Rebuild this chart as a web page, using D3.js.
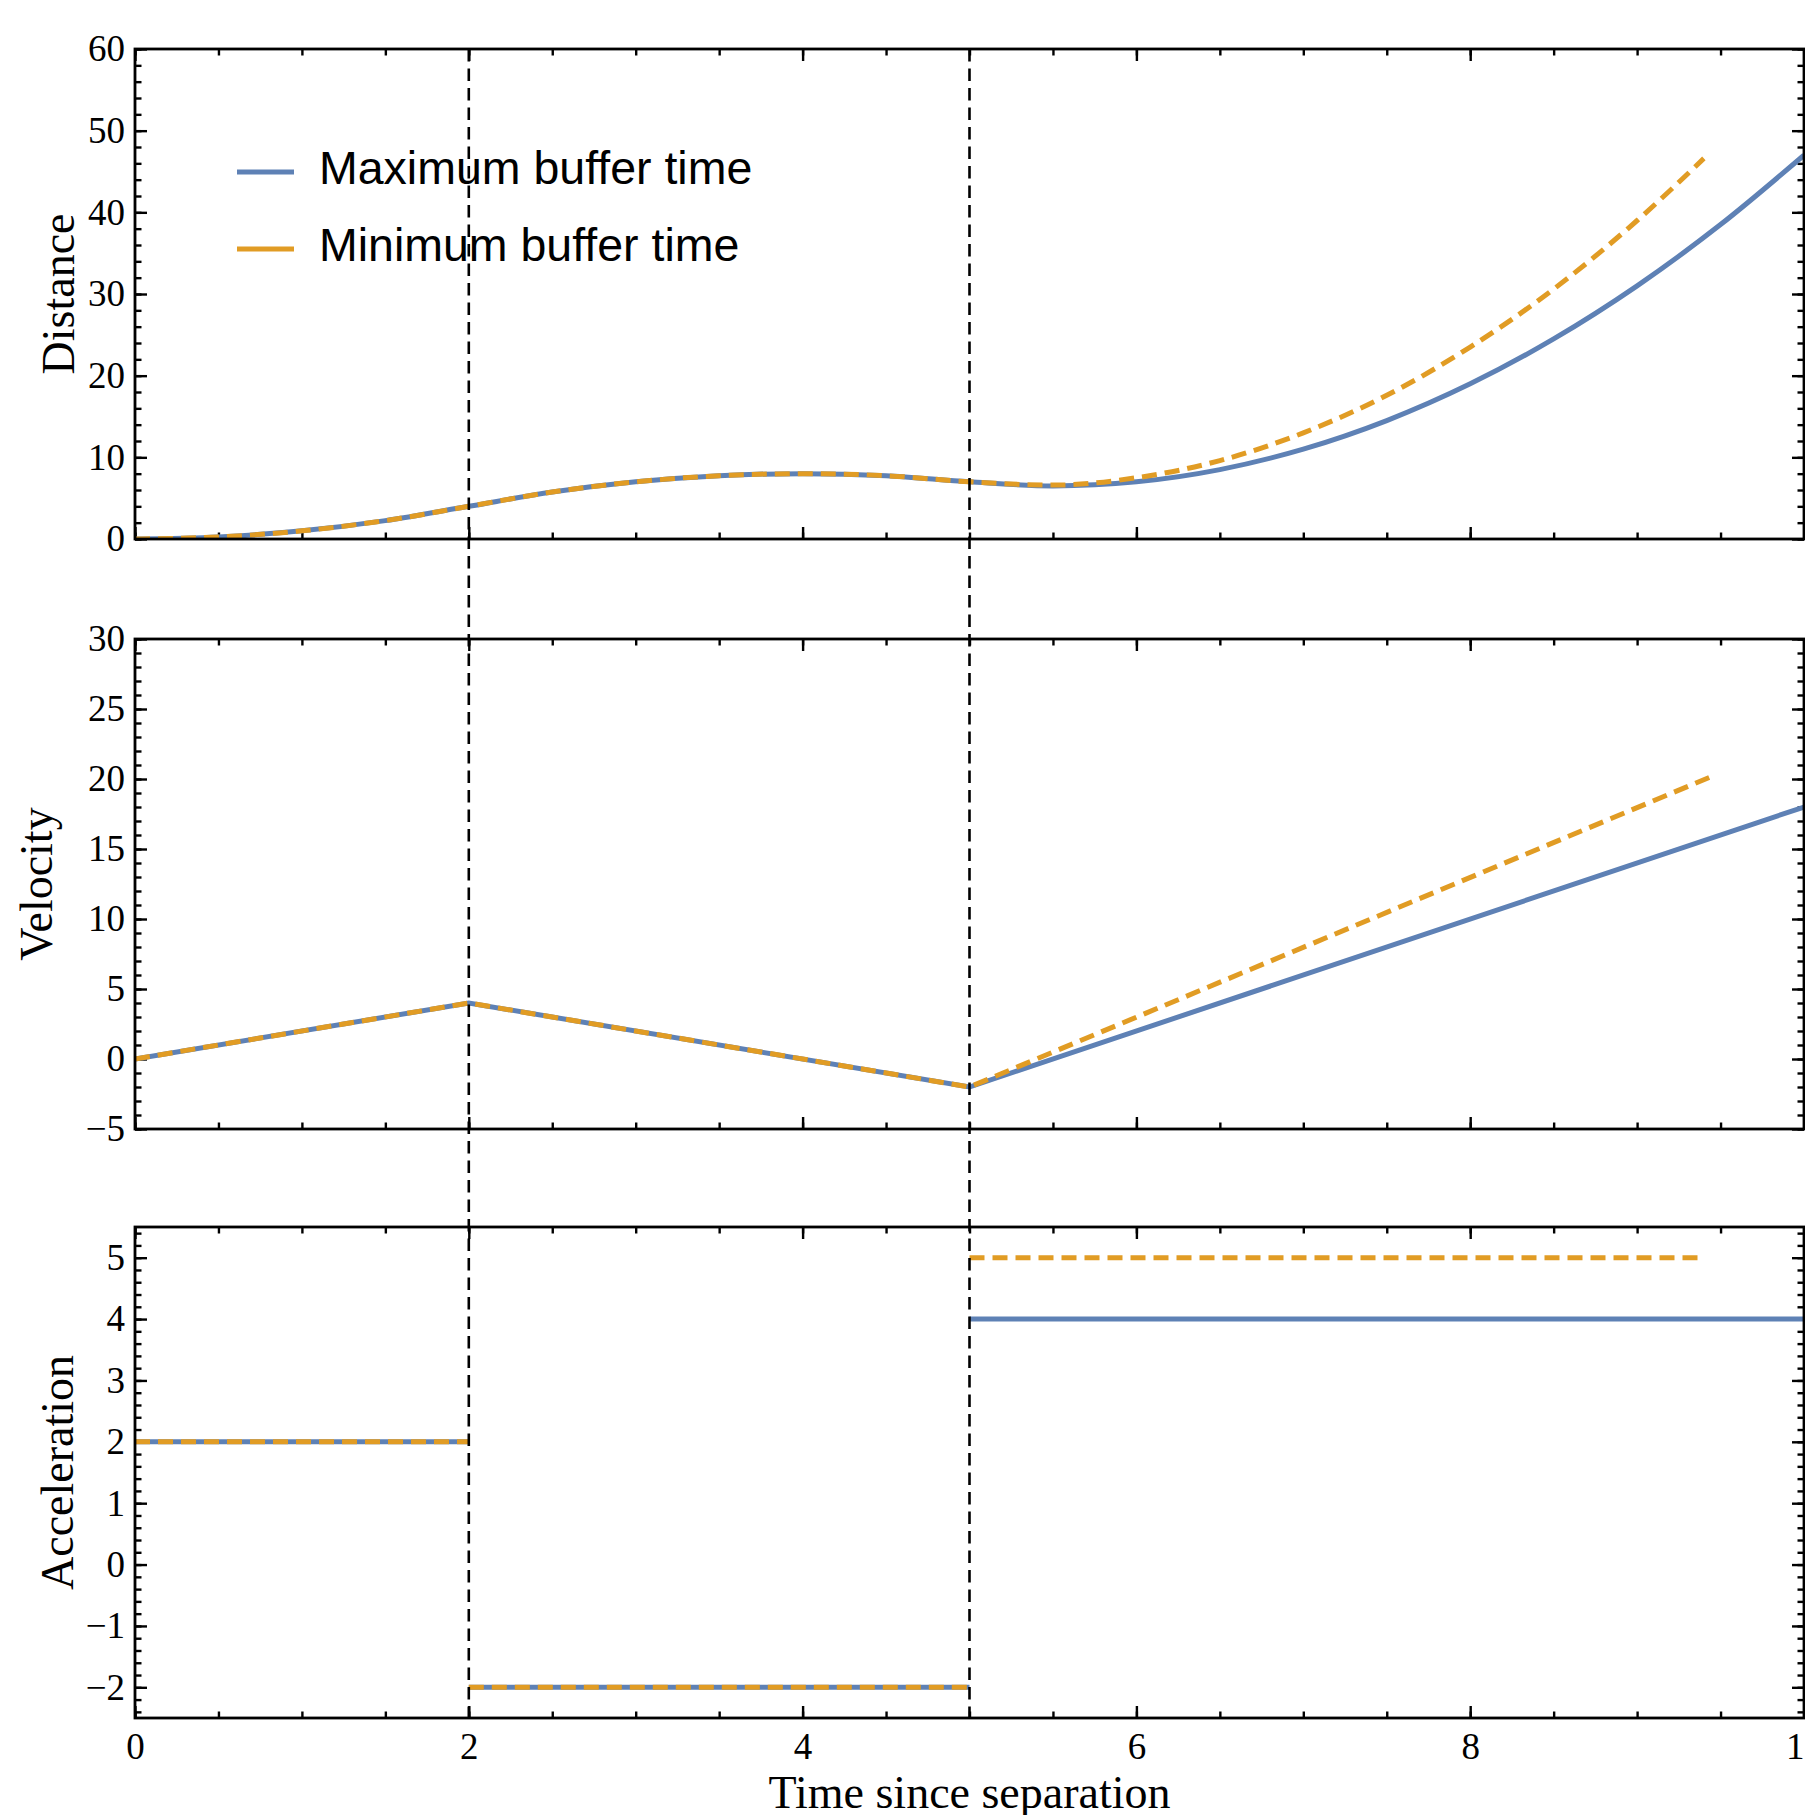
<!DOCTYPE html>
<html><head><meta charset="utf-8">
<script src="https://cdn.jsdelivr.net/npm/d3@7"></script>
<style>body{margin:0;background:#fff}svg{display:block}</style>
</head><body>
<script>
// ---- data ----
const seriesNames = ["Maximum buffer time", "Minimum buffer time"];
const switchTimes = [2, 5];

const distTimeMax = [0,0.5,1,1.5,2,2.5,3,3.5,4,4.5,5,5.5,6,6.5,7,7.5,8,8.5,9,9.5,10];
const distMax     = [0,0.25,1,2.25,4,5.75,7,7.75,8,7.75,7,6.5,7,8.5,11,14.5,19,24.5,31,38.5,47];
const distTimeMin = [0,0.5,1,1.5,2,2.5,3,3.5,4,4.5,5,5.5,6,6.5,7,7.5,8,8.5,9,9.4];
const distMin     = [0,0.25,1,2.25,4,5.75,7,7.75,8,7.75,7,6.6,7.5,9.6,13,17.6,23.5,30.6,39,46.6];

const velTimeMax = [0, 2, 5, 10];
const velMax     = [0, 4, -2, 18];
const velTimeMin = [0, 2, 5, 9.45];
const velMin     = [0, 4, -2, 20.2];

const accStartMax = [0, 2, 5];
const accEndMax   = [2, 5, 10];
const accMax      = [2, -2, 4];
const accStartMin = [0, 2, 5];
const accEndMin   = [2, 5, 9.4];
const accMin      = [2, -2, 5];

const xTicks    = [0, 2, 4, 6, 8, 10];
const distTicks = [0, 10, 20, 30, 40, 50, 60];
const velTicks  = [-5, 0, 5, 10, 15, 20, 25, 30];
const accTicks  = [-2, -1, 0, 1, 2, 3, 4, 5];

// ---- layout ----
const W = 1805, H = 1815;
const L = 135, R = 1804;
const BLUE = "#5E81B5", ORANGE = "#E19C24";
const SERIF = "'Liberation Serif','Times New Roman',serif";
const SANS = "'Liberation Sans',Arial,sans-serif";
const LW = 5;

const svg = d3.select("body").append("svg").attr("width", W).attr("height", H);
const x = d3.scaleLinear().domain([0, 10]).range([L, R]);
const fmt = d => d < 0 ? "\u2212" + Math.abs(d) : String(d);
const range = (a, b, s) => { const r = []; for (let v = a; v <= b + 1e-9; v += s) r.push(+v.toFixed(4)); return r; };

const panels = [
  { top: 49,  bottom: 539,  dom: [0, 60],     ticks: distTicks, minor: range(0, 60, 2),      label: "Distance",     lx: 74 },
  { top: 639, bottom: 1129, dom: [-5, 30],    ticks: velTicks,  minor: range(-5, 30, 1),     label: "Velocity",     lx: 52 },
  { top: 1227,bottom: 1718, dom: [-2.5, 5.5], ticks: accTicks,  minor: range(-2.4, 5.4, 0.2), label: "Acceleration", lx: 73 }
];
const xMinor = range(0, 10, 0.5);

panels.forEach((p, i) => {
  p.y = d3.scaleLinear().domain(p.dom).range([p.bottom, p.top]);
  const g = svg.append("g");
  const style = sel => {
    sel.select(".domain").remove();
    sel.selectAll("line").attr("stroke", "#000").attr("stroke-width", 2.4);
    sel.selectAll("text").attr("font-family", SERIF).attr("font-size", 37).attr("fill", "#000");
  };
  // left
  g.append("g").attr("transform", `translate(${L},0)`)
    .call(d3.axisLeft(p.y).tickValues(p.ticks).tickSize(-12).tickPadding(10).tickFormat(fmt)).call(style);
  g.append("g").attr("transform", `translate(${L},0)`)
    .call(d3.axisLeft(p.y).tickValues(p.minor).tickSize(-6.5).tickFormat("")).call(style);
  // right
  g.append("g").attr("transform", `translate(${R},0)`)
    .call(d3.axisRight(p.y).tickValues(p.ticks).tickSize(-12).tickFormat("")).call(style);
  g.append("g").attr("transform", `translate(${R},0)`)
    .call(d3.axisRight(p.y).tickValues(p.minor).tickSize(-6.5).tickFormat("")).call(style);
  // top
  g.append("g").attr("transform", `translate(0,${p.top})`)
    .call(d3.axisTop(x).tickValues(xTicks).tickSize(-12).tickFormat("")).call(style);
  g.append("g").attr("transform", `translate(0,${p.top})`)
    .call(d3.axisTop(x).tickValues(xMinor).tickSize(-6.5).tickFormat("")).call(style);
  // bottom
  g.append("g").attr("transform", `translate(0,${p.bottom})`)
    .call(d3.axisBottom(x).tickValues(xTicks).tickSize(-12).tickPadding(15).tickFormat(i === 2 ? fmt : "")).call(style);
  g.append("g").attr("transform", `translate(0,${p.bottom})`)
    .call(d3.axisBottom(x).tickValues(xMinor).tickSize(-6.5).tickFormat("")).call(style);

  // clip
  svg.append("clipPath").attr("id", "clip" + i).append("rect")
    .attr("x", L).attr("y", p.top).attr("width", R - L).attr("height", p.bottom - p.top);
  p.plot = svg.append("g").attr("clip-path", `url(#clip${i})`);

  // y label
  svg.append("text").attr("transform", `translate(${p.lx},${(p.top + p.bottom) / 2}) rotate(-90)`)
    .attr("text-anchor", "middle").attr("font-family", SERIF).attr("font-size", 46).attr("fill", "#000")
    .text(p.label);
});

// vertical dashed switch lines
svg.append("g").selectAll("line").data(switchTimes).join("line")
  .attr("x1", d => x(d)).attr("x2", d => x(d))
  .attr("y1", panels[0].top).attr("y2", panels[2].bottom)
  .attr("stroke", "#000").attr("stroke-width", 2.6).attr("stroke-dasharray", "12.5,7");

// data lines
const lineStyle = (sel, color, dashed) => sel.attr("fill", "none").attr("stroke", color)
  .attr("stroke-width", LW).attr("stroke-dasharray", dashed ? "15,8" : null);

const series = [
  { color: BLUE, dashed: false, dt: distTimeMax, d: distMax, vt: velTimeMax, v: velMax, as: accStartMax, ae: accEndMax, a: accMax },
  { color: ORANGE, dashed: true, dt: distTimeMin, d: distMin, vt: velTimeMin, v: velMin, as: accStartMin, ae: accEndMin, a: accMin }
];

series.forEach(s => {
  const dPts = s.dt.map((t, k) => [t, s.d[k]]);
  panels[0].plot.append("path").datum(dPts)
    .attr("d", d3.line().x(d => x(d[0])).y(d => panels[0].y(d[1])).curve(d3.curveMonotoneX))
    .call(lineStyle, s.color, s.dashed);

  const vPts = s.vt.map((t, k) => [t, s.v[k]]);
  panels[1].plot.append("path").datum(vPts)
    .attr("d", d3.line().x(d => x(d[0])).y(d => panels[1].y(d[1])))
    .call(lineStyle, s.color, s.dashed);

  s.as.forEach((t0, k) => {
    panels[2].plot.append("path").datum([[t0, s.a[k]], [s.ae[k], s.a[k]]])
      .attr("d", d3.line().x(d => x(d[0])).y(d => panels[2].y(d[1])))
      .call(lineStyle, s.color, s.dashed);
  });
});

// frames
panels.forEach(p => {
  svg.append("rect").attr("x", L).attr("y", p.top).attr("width", R - L).attr("height", p.bottom - p.top)
    .attr("fill", "none").attr("stroke", "#000").attr("stroke-width", 2.8);
});

// x label
svg.append("text").attr("x", (L + R) / 2).attr("y", 1808).attr("text-anchor", "middle")
  .attr("font-family", SERIF).attr("font-size", 46).attr("fill", "#000").text("Time since separation");

// legend
const leg = svg.append("g");
const legY = [172, 249];
seriesNames.forEach((name, k) => {
  leg.append("line").attr("x1", 237).attr("x2", 294).attr("y1", legY[k]).attr("y2", legY[k])
    .attr("stroke", series[k].color).attr("stroke-width", LW);
  leg.append("text").attr("x", 319).attr("y", legY[k] + 12).attr("font-family", SANS)
    .attr("font-size", 46.5).attr("fill", "#000").text(name);
});
</script>
</body></html>
